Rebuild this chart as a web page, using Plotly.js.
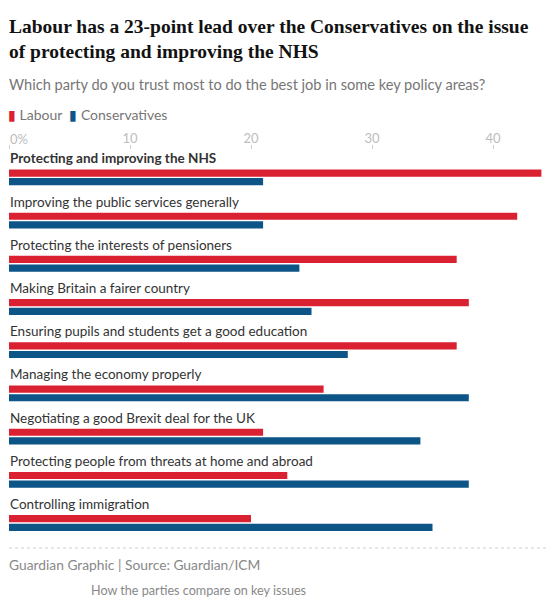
<!DOCTYPE html>
<html>
<head>
<meta charset="utf-8">
<script src="https://cdn.plot.ly/plotly-3.0.1.min.js"></script>
<style>html,body{margin:0;padding:0;background:#fff;}#chart{width:546px;height:600px;}</style>
</head>
<body>
<div id="chart"></div>
<script>
// ---- data ----
var categories = [
  "Protecting and improving the NHS",
  "Improving the public services generally",
  "Protecting the interests of pensioners",
  "Making Britain a fairer country",
  "Ensuring pupils and students get a good education",
  "Managing the economy properly",
  "Negotiating a good Brexit deal for the UK",
  "Protecting people from threats at home and abroad",
  "Controlling immigration"
];
var labourValues = [44, 42, 37, 38, 37, 26, 21, 23, 20];
var conservativeValues = [21, 21, 24, 25, 28, 38, 34, 38, 35];
var seriesNames = ["Labour", "Conservatives"];
var tickValues = [0, 10, 20, 30, 40];
var tickLabels = ["0%", "10", "20", "30", "40"];
var titleLines = ["Labour has a 23-point lead over the Conservatives on the issue",
                  "of protecting and improving the NHS"];
var subtitleText = "Which party do you trust most to do the best job in some key policy areas?";
var sourceText = "Guardian Graphic | Source: Guardian/ICM";
var captionText = "How the parties compare on key issues";
var highlighted = categories[0];

// ---- style ----
var RED = "#da2131", BLUE = "#0e5587";
var W = 546, H = 600;
var TOP = 149.5, BOTTOM = 545, FIRST = 176.9, PERIOD = 43.26;
var M = {l: 9, r: 0, t: TOP, b: H - BOTTOM};
var plotW = W - M.l - M.r, plotH = H - M.t - M.b;
function px2x(px){ return (px - M.l) / plotW; }
function py2y(py){ return 1 - (py - M.t) / plotH; }
var SANS = "Lato, 'Open Sans', sans-serif";
var SERIF = "'Liberation Serif', 'DejaVu Serif', serif";
var TICKFONT = {family: SANS, size: 13, color: "#bdbdbd"};

var traces = [
  {type: "bar", orientation: "h", name: seriesNames[0], y: categories, x: labourValues,
   marker: {color: RED}},
  {type: "bar", orientation: "h", name: seriesNames[1], y: categories, x: conservativeValues,
   marker: {color: BLUE}}
];

var annotations = [];
function addText(text, px, py, size, color, family){
  annotations.push({
    xref: "paper", x: px2x(px), xanchor: "left",
    yref: "paper", y: py2y(py), yanchor: "middle",
    text: text, showarrow: false, borderpad: 0, align: "left",
    font: {family: family || SANS, size: size, color: color}
  });
}
categories.forEach(function(c){
  annotations.push({
    xref: "paper", x: 0, xanchor: "left",
    yref: "y", y: c, yanchor: "middle", yshift: 19,
    text: c === highlighted ? "<b>" + c + "</b>" : c,
    showarrow: false, align: "left", borderpad: 0,
    font: {family: SANS, size: 13.5, color: "#333333"}
  });
});
addText("<b>" + titleLines[0] + "</b>", 8, 25.5, 19.5, "#121212", SERIF);
addText("<b>" + titleLines[1] + "</b>", 8, 50.5, 19.5, "#121212", SERIF);
addText(subtitleText, 8, 83.5, 14.6, "#767676");
addText('<span style="color:' + RED + '">\u25AE</span> ' + seriesNames[0] +
        '  <span style="color:' + BLUE + '">\u25AE</span> ' + seriesNames[1],
        7, 114, 14, "#767676");
addText(sourceText, 8, 565, 13.8, "#888888");
addText(captionText, 90, 591, 12.6, "#888888");
// first tick label, left-aligned at its tick like the original
annotations.push({
  xref: "x", x: tickValues[0], xanchor: "left",
  yref: "paper", y: py2y(138), yanchor: "middle",
  text: tickLabels[0], showarrow: false, borderpad: 0, font: TICKFONT
});

var layout = {
  width: W, height: H,
  margin: M,
  paper_bgcolor: "#fff", plot_bgcolor: "#fff",
  showlegend: false,
  barmode: "group", bargap: 0.6, bargroupgap: 0.17,
  xaxis: {
    side: "top", range: [0, plotW / 12.1], fixedrange: true,
    tickvals: tickValues,
    ticktext: tickLabels.map(function(t, i){ return i === 0 ? "" : t; }),
    ticks: "outside", ticklen: 4, tickcolor: "#d0d0d0", tickwidth: 1,
    ticklabelstandoff: -3,
    tickfont: TICKFONT,
    showgrid: true, gridcolor: "#ffffff", gridwidth: 1,
    zeroline: false, showline: false, layer: "above traces"
  },
  yaxis: {
    type: "category",
    range: [(BOTTOM - FIRST) / PERIOD, -(FIRST - TOP) / PERIOD], autorange: false,
    showticklabels: false, showgrid: false, zeroline: false, showline: false,
    ticks: "", fixedrange: true
  },
  shapes: [{
    type: "line", xref: "paper", x0: 0, x1: 1,
    yref: "paper", y0: py2y(548), y1: py2y(548),
    line: {color: "#cfcfcf", width: 1, dash: "dot"}
  }],
  annotations: annotations
};

Plotly.newPlot("chart", traces, layout, {displayModeBar: false, staticPlot: true});
</script>
</body>
</html>
